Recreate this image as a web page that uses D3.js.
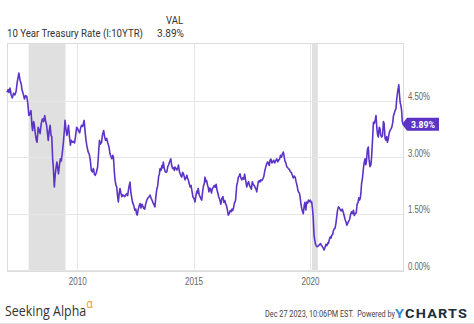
<!DOCTYPE html>
<html>
<head>
<meta charset="utf-8">
<script src="https://cdn.jsdelivr.net/npm/d3@7"></script>
<style>
  html, body { margin: 0; padding: 0; background: #fff; }
  svg { display: block; font-family: Roboto, "Noto Sans", Arial, sans-serif; }
</style>
</head>
<body>
<svg id="chart" width="474" height="324"></svg>
<script>
// ---------- DATA ----------
const seriesName = "10 Year Treasury Rate (I:10YTR)";
const lastValueLabel = "3.89%";
const yTicks = [0, 1.5, 3.0, 4.5];
const xTickYears = [2010, 2015, 2020];
const recessions = [[2007.917, 2009.5], [2020.083, 2020.333]];

const years = [
2006.99,2007.04,2007.08,2007.12,2007.17,2007.22,2007.27,2007.33,2007.38,2007.43,2007.50,2007.55,2007.60,2007.64,2007.69,2007.74,2007.79,2007.84,2007.88,2007.93,2007.97,
2008.02,2008.06,2008.09,2008.13,2008.16,2008.21,2008.25,2008.28,2008.33,2008.37,2008.41,2008.46,2008.51,2008.56,2008.61,2008.65,2008.69,2008.73,2008.76,2008.80,2008.84,2008.88,2008.91,2008.95,2008.98,
2009.02,2009.06,2009.10,2009.13,2009.17,2009.20,2009.24,2009.28,2009.32,2009.36,2009.41,2009.45,2009.48,2009.52,2009.56,2009.60,2009.63,2009.67,2009.71,2009.75,2009.79,2009.84,2009.89,2009.94,2009.98,
2010.03,2010.06,2010.11,2010.15,2010.19,2010.24,2010.30,2010.34,2010.38,2010.42,2010.47,2010.52,2010.56,2010.61,2010.65,2010.70,2010.74,2010.78,2010.83,2010.88,2010.92,2010.96,
2011.00,2011.05,2011.09,2011.14,2011.18,2011.22,2011.27,2011.31,2011.37,2011.41,2011.45,2011.49,2011.53,2011.56,2011.60,2011.63,2011.67,2011.70,2011.74,2011.77,2011.81,2011.84,2011.88,2011.92,2011.96,2011.99,
2012.04,2012.09,2012.13,2012.17,2012.22,2012.27,2012.31,2012.34,2012.38,2012.43,2012.48,2012.52,2012.55,2012.58,2012.62,2012.66,2012.70,2012.74,2012.78,2012.82,2012.86,2012.90,2012.94,2012.99,
2013.04,2013.09,2013.13,2013.18,2013.22,2013.27,2013.31,2013.34,2013.38,2013.42,2013.46,2013.50,2013.53,2013.56,2013.60,2013.64,2013.67,2013.70,2013.74,2013.78,2013.82,2013.85,2013.89,2013.93,2013.97,
2014.02,2014.06,2014.10,2014.14,2014.17,2014.20,2014.24,2014.28,2014.32,2014.35,2014.39,2014.43,2014.46,2014.49,2014.53,2014.57,2014.60,2014.63,2014.67,2014.71,2014.74,2014.78,2014.81,2014.85,2014.89,2014.93,2014.97,
2015.02,2015.06,2015.10,2015.14,2015.17,2015.20,2015.24,2015.28,2015.31,2015.35,2015.39,2015.43,2015.46,2015.49,2015.53,2015.56,2015.60,2015.63,2015.66,2015.70,2015.73,2015.77,2015.80,2015.84,2015.89,2015.93,2015.97,
2016.00,2016.04,2016.08,2016.13,2016.17,2016.21,2016.26,2016.30,2016.34,2016.38,2016.42,2016.45,2016.49,2016.53,2016.57,2016.61,2016.65,2016.68,2016.71,2016.75,2016.80,2016.85,2016.89,2016.92,2016.96,2016.99,
2017.03,2017.07,2017.11,2017.15,2017.19,2017.23,2017.28,2017.32,2017.36,2017.40,2017.44,2017.48,2017.52,2017.56,2017.60,2017.64,2017.68,2017.71,2017.75,2017.78,2017.82,2017.85,2017.89,2017.93,2017.97,
2018.01,2018.05,2018.10,2018.14,2018.18,2018.22,2018.25,2018.28,2018.32,2018.36,2018.40,2018.44,2018.48,2018.52,2018.57,2018.61,2018.65,2018.69,2018.73,2018.77,2018.81,2018.85,2018.88,2018.92,2018.96,
2019.00,2019.04,2019.07,2019.11,2019.15,2019.19,2019.24,2019.28,2019.32,2019.36,2019.40,2019.44,2019.47,2019.50,2019.54,2019.57,2019.61,2019.64,2019.68,2019.71,2019.75,2019.78,2019.82,2019.86,2019.90,2019.93,2019.97,
2020.01,2020.04,2020.07,2020.10,2020.13,2020.17,2020.20,2020.23,2020.26,2020.29,2020.33,2020.37,2020.41,2020.45,2020.49,2020.53,2020.57,2020.60,2020.64,2020.68,2020.72,2020.76,2020.79,2020.83,2020.87,2020.90,2020.93,2020.97,
2021.00,2021.04,2021.07,2021.11,2021.14,2021.18,2021.22,2021.26,2021.30,2021.34,2021.38,2021.42,2021.46,2021.50,2021.54,2021.58,2021.62,2021.66,2021.70,2021.74,2021.78,2021.82,2021.86,2021.90,2021.94,2021.98,
2022.02,2022.06,2022.09,2022.12,2022.15,2022.18,2022.21,2022.25,2022.29,2022.32,2022.36,2022.39,2022.42,2022.46,2022.50,2022.53,2022.57,2022.61,2022.64,2022.68,2022.72,2022.76,2022.80,2022.83,2022.87,2022.90,2022.93,2022.97,
2023.00,2023.03,2023.07,2023.11,2023.15,2023.18,2023.22,2023.26,2023.29,2023.32,2023.36,2023.39,2023.43,2023.47,2023.51,2023.55,2023.58,2023.62,2023.65,2023.69,2023.72,2023.76,2023.79,2023.81,2023.84,2023.87,2023.90,2023.93,2023.96,2023.99
];

const rates = [
4.73,4.80,4.72,4.84,4.65,4.58,4.70,4.66,4.75,5.00,5.24,5.05,4.95,4.78,4.68,4.55,4.64,4.62,4.45,4.11,4.15,
4.24,3.85,3.71,3.95,3.89,3.60,3.45,3.40,3.80,3.72,3.63,3.90,4.02,3.95,4.11,3.95,3.85,3.62,3.45,3.70,3.85,3.58,3.55,2.95,2.70,
2.21,2.55,2.75,2.87,2.70,2.56,2.80,2.96,2.90,3.10,3.40,3.70,3.98,3.75,3.58,3.72,3.85,3.55,3.32,3.45,3.40,3.42,3.38,3.60,3.80,
3.75,3.70,3.65,3.78,3.85,3.82,3.98,3.70,3.45,3.30,3.15,3.08,2.95,2.65,2.61,2.70,2.55,2.52,2.60,2.74,3.10,3.45,
3.35,3.40,3.60,3.71,3.55,3.45,3.50,3.40,3.27,3.10,3.02,2.96,3.05,3.00,2.60,2.39,2.25,2.21,1.95,1.81,2.05,2.17,2.05,1.95,2.00,1.99,
1.95,2.00,2.03,1.98,2.20,2.34,2.05,1.94,1.80,1.72,1.59,1.62,1.50,1.46,1.60,1.70,1.77,1.65,1.75,1.70,1.64,1.62,1.75,1.86,
1.92,1.95,1.99,1.90,1.85,1.77,1.72,1.68,1.95,2.15,2.25,2.50,2.55,2.70,2.65,2.78,2.72,2.87,2.70,2.62,2.60,2.61,2.75,2.80,2.88,
2.96,2.78,2.70,2.72,2.65,2.74,2.70,2.66,2.72,2.79,2.62,2.55,2.50,2.47,2.60,2.55,2.48,2.40,2.45,2.52,2.45,2.38,2.30,2.21,2.25,2.10,1.95,
1.90,1.81,1.98,2.10,2.05,2.17,2.00,1.95,1.90,1.86,2.10,2.25,2.30,2.47,2.35,2.38,2.25,2.20,2.08,2.18,2.15,2.05,2.15,2.20,2.25,2.20,2.28,
2.15,2.05,1.95,1.86,1.75,1.90,1.95,1.80,1.85,1.75,1.70,1.60,1.46,1.50,1.58,1.55,1.62,1.58,1.64,1.78,1.85,2.25,2.35,2.47,2.50,2.56,
2.45,2.40,2.45,2.42,2.55,2.40,2.21,2.30,2.35,2.25,2.20,2.15,2.35,2.28,2.25,2.20,2.15,2.08,2.25,2.35,2.38,2.34,2.40,2.38,2.42,
2.48,2.62,2.75,2.83,2.88,2.82,2.78,2.92,2.95,2.85,2.88,2.92,2.85,2.90,2.96,2.88,2.92,2.95,3.05,3.00,3.08,3.14,3.05,2.90,2.85,
2.75,2.72,2.70,2.68,2.62,2.60,2.52,2.45,2.50,2.47,2.35,2.25,2.15,2.08,2.05,1.95,1.75,1.64,1.55,1.50,1.72,1.80,1.60,1.81,1.78,1.86,1.82,
1.86,1.80,1.81,1.65,1.45,0.93,0.80,0.70,0.65,0.62,0.63,0.65,0.68,0.70,0.65,0.62,0.58,0.53,0.60,0.68,0.65,0.72,0.71,0.82,0.88,0.85,0.93,0.95,
1.05,1.10,1.11,1.25,1.40,1.60,1.68,1.65,1.60,1.57,1.62,1.55,1.45,1.35,1.28,1.19,1.25,1.30,1.35,1.48,1.55,1.50,1.59,1.45,1.50,1.52,
1.75,1.80,1.92,1.86,1.90,2.03,2.30,2.45,2.70,2.85,2.96,2.80,2.90,3.20,3.27,2.95,2.75,2.79,3.00,3.45,3.93,3.90,4.00,4.11,3.75,3.60,3.54,3.80,
3.76,3.60,3.54,3.58,3.95,3.89,3.50,3.45,3.55,3.40,3.50,3.62,3.71,3.75,3.80,3.93,4.10,4.18,4.24,4.30,4.55,4.75,4.85,4.93,4.65,4.45,4.38,4.25,3.95,3.89
];

// ---------- HELPERS ----------
function decToDate(v) {
  const yr = Math.floor(v);
  const start = Date.UTC(yr, 0, 1), end = Date.UTC(yr + 1, 0, 1);
  return new Date(start + (v - yr) * (end - start));
}
const data = years.map((v, i) => ({ date: decToDate(v), value: rates[i] }));

// scale a text horizontally so that it spans exactly `w` pixels starting at (tx, ty)
function fitText(t, tx, ty, w) {
  const nat = t.node().getComputedTextLength();
  const k = nat > 0 ? w / nat : 1;
  t.attr("x", 0).attr("y", 0).attr("transform", `translate(${tx},${ty}) scale(${k},1)`);
  return t;
}

// ---------- LAYOUT ----------
const svg = d3.select("#chart");
const plotL = 7, plotR = 403, plotT = 43, plotB = 270;
const purple = "#5b33c6";
const grid = "#e6e6e6";

const x = d3.scaleUtc()
  .domain([decToDate(2006.99), decToDate(2023.99)])
  .range([plotL, plotR]);
const y = d3.scaleLinear().domain([0, 6.04]).range([plotB, plotT]);

svg.append("rect").attr("width", 474).attr("height", 324).attr("fill", "#fff");

// recession bands
svg.append("g").selectAll("rect").data(recessions).join("rect")
  .attr("x", d => x(decToDate(d[0])))
  .attr("y", plotT)
  .attr("width", d => Math.max(2, x(decToDate(d[1])) - x(decToDate(d[0]))))
  .attr("height", plotB - plotT)
  .attr("fill", "#e0e0e0");

// horizontal grid
svg.append("g").selectAll("line").data(yTicks).join("line")
  .attr("x1", plotL).attr("x2", plotR)
  .attr("y1", d => Math.round(y(d)) + 0.5).attr("y2", d => Math.round(y(d)) + 0.5)
  .attr("stroke", grid).attr("stroke-width", 1);

// vertical grid
svg.append("g").selectAll("line").data(xTickYears).join("line")
  .attr("x1", d => Math.round(x(decToDate(d))) + 0.5).attr("x2", d => Math.round(x(decToDate(d))) + 0.5)
  .attr("y1", plotT).attr("y2", plotB)
  .attr("stroke", grid).attr("stroke-width", 1);

// plot frame
svg.append("rect")
  .attr("x", plotL + 0.5).attr("y", plotT + 0.5)
  .attr("width", plotR - plotL).attr("height", plotB - plotT + 1)
  .attr("fill", "none").attr("stroke", "#dcdcdc").attr("stroke-width", 1);

// right axis labels
const yAxis = d3.axisRight(y).tickValues(yTicks).tickSize(0).tickFormat(d => d3.format(".2f")(d) + "%");
const yg = svg.append("g").attr("transform", `translate(${plotR + 5},0)`).call(yAxis);
yg.select(".domain").remove();
yg.selectAll("text")
  .attr("x", 0).attr("dy", "-1px")
  .attr("fill", "#666").attr("font-size", 10)
  .attr("text-anchor", "start")
  .attr("textLength", 22).attr("lengthAdjust", "spacingAndGlyphs");

// bottom axis labels
const xAxis = d3.axisBottom(x).tickValues(xTickYears.map(decToDate)).tickSize(0).tickFormat(d3.utcFormat("%Y"));
const xg = svg.append("g").attr("transform", `translate(0,${plotB})`).call(xAxis);
xg.select(".domain").remove();
xg.selectAll("text")
  .attr("y", 15).attr("dy", 0)
  .attr("fill", "#666").attr("font-size", 10)
  .attr("textLength", 18).attr("lengthAdjust", "spacingAndGlyphs");

// line
const line = d3.line().x(d => x(d.date)).y(d => y(d.value));
svg.append("path").datum(data)
  .attr("d", line)
  .attr("fill", "none")
  .attr("stroke", purple)
  .attr("stroke-width", 1.6)
  .attr("stroke-linejoin", "round");

// last value tag
const last = data[data.length - 1];
const ty = y(last.value) + 0.5;
const tx = plotR - 1;
svg.append("path")
  .attr("d", `M${tx},${ty} L${tx + 5},${ty - 6.5} L${tx + 37},${ty - 6.5} L${tx + 37},${ty + 6.5} L${tx + 5},${ty + 6.5} Z`)
  .attr("fill", purple);
svg.append("text")
  .attr("x", tx + 9).attr("y", ty + 3.5)
  .attr("fill", "#fff").attr("font-size", 9.5).attr("font-weight", "bold")
  .attr("textLength", 24).attr("lengthAdjust", "spacingAndGlyphs")
  .text(lastValueLabel);

// header
fitText(svg.append("text").attr("font-size", 10.5).attr("fill", "#333").text("VAL"), 166, 24, 17);
fitText(svg.append("text").attr("font-size", 10.5).attr("fill", "#333").text(seriesName), 7, 37, 136);
fitText(svg.append("text").attr("font-size", 10.5).attr("fill", "#333").text(lastValueLabel), 157, 37, 27);

// footer: Seeking Alpha logo text
const sa = svg.append("text").attr("font-size", 15).attr("fill", "#333")
  .attr("font-family", "'Open Sans', Roboto, sans-serif");
sa.append("tspan").text("Seeking Alpha");
sa.append("tspan").attr("dx", 0).attr("dy", -8).attr("font-size", 13).attr("fill", "#f39a1e").text("α");
fitText(sa, 5, 316, 88);

// footer: timestamp and powered by
const ts = svg.append("text").attr("font-size", 9).attr("fill", "#444");
ts.append("tspan").text("Dec 27 2023, 10:06PM EST.");
ts.append("tspan").attr("dx", 4).text("Powered by");
fitText(ts, 265, 317, 127);

// footer: YCHARTS wordmark
const yc = svg.append("text").attr("font-size", 12).attr("font-weight", "bold").attr("dy", 0);
yc.append("tspan").attr("fill", "#2b8fd6").text("Y");
yc.append("tspan").attr("dx", 1).attr("fill", "#1f2d3a").attr("letter-spacing", 1).text("CHARTS");
fitText(yc, 395, 318, 72);

svg.append("line").attr("x1", 0).attr("x2", 474).attr("y1", 323.5).attr("y2", 323.5)
  .attr("stroke", "#e6e6e6");
</script>
</body>
</html>
